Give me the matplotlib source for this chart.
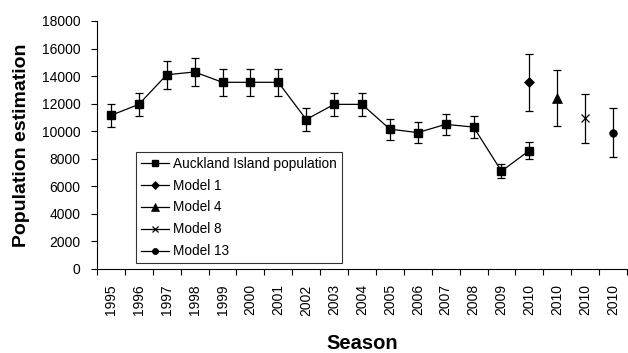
import matplotlib
matplotlib.use("Agg")
import matplotlib.pyplot as plt

plt.rcParams['font.family'] = ['Liberation Sans', 'DejaVu Sans']

seasons = ["1995", "1996", "1997", "1998", "1999", "2000", "2001", "2002", "2003",
           "2004", "2005", "2006", "2007", "2008", "2009", "2010", "2010", "2010", "2010"]

pop_values = [11150, 11950, 14100, 14300, 13550, 13550, 13550, 10850, 11950,
              11950, 10150, 9900, 10500, 10300, 7100, 8600]
pop_errors = [850, 850, 1000, 1000, 970, 1000, 970, 800, 850,
              850, 770, 750, 780, 770, 520, 620]

model_names = ["Model 1", "Model 4", "Model 8", "Model 13"]
model_pos = [15, 16, 17, 18]
model_values = [13550, 12400, 10950, 9900]
model_errors = [2080, 2050, 1780, 1800]
model_markers = ["D", "^", "x", "o"]
model_sizes = [5, 6.5, 6, 5.5]

fig = plt.figure(figsize=(6.28, 3.53), dpi=100)
ax = fig.add_axes([97/628, 1-269/353, 530/628, 248/353])

x_pop = list(range(len(pop_values)))
ax.errorbar(x_pop, pop_values, yerr=pop_errors, fmt='none', ecolor='black',
            elinewidth=0.9, capsize=3, capthick=0.9)
handles = []
h, = ax.plot(x_pop, pop_values, '-', color='black', lw=0.9, marker='s',
             markersize=6, label="Auckland Island population")
handles.append(h)

for name, xp, v, e, m, s in zip(model_names, model_pos, model_values, model_errors,
                                model_markers, model_sizes):
    ax.errorbar([xp], [v], yerr=[e], fmt='none', ecolor='black',
                elinewidth=0.9, capsize=3, capthick=0.9)
    h, = ax.plot([xp], [v], '-', color='black', lw=0.9, marker=m, markersize=s,
                 markeredgewidth=0.9 if m == 'x' else 0.5, label=name)
    handles.append(h)

ax.set_xlim(-0.5, len(seasons) - 0.5)
ax.set_ylim(0, 18000)
ax.set_yticks(range(0, 18001, 2000))
ax.set_xticks([i - 0.5 for i in range(len(seasons) + 1)], minor=False)
ax.set_xticklabels([])
ax.set_xticks(range(len(seasons)), minor=True)
ax.set_xticklabels(seasons, minor=True, rotation=90, fontsize=10)
ax.tick_params(axis='x', which='minor', length=0, pad=11)
ax.tick_params(axis='x', which='major', length=4, width=0.8, direction='out')
ax.tick_params(axis='y', length=4, width=0.8, direction='out', pad=8, labelsize=10)

for side in ['top', 'right']:
    ax.spines[side].set_visible(False)
for side in ['left', 'bottom']:
    ax.spines[side].set_linewidth(0.8)

ax.set_ylabel("Population estimation", fontsize=14, fontweight='bold', labelpad=8)
ax.set_xlabel("Season", fontsize=14.5, fontweight='bold', labelpad=13)

leg = ax.legend(handles=handles, loc='lower left', bbox_to_anchor=(0.0736, 0.024),
                fontsize=9.8, frameon=True, fancybox=False, edgecolor='black',
                handlelength=2.1, handletextpad=0.3, labelspacing=0.58,
                borderpad=0.35, borderaxespad=0, markerscale=0.8)
leg.get_frame().set_linewidth(0.8)

fig.savefig("out.png", dpi=100)
